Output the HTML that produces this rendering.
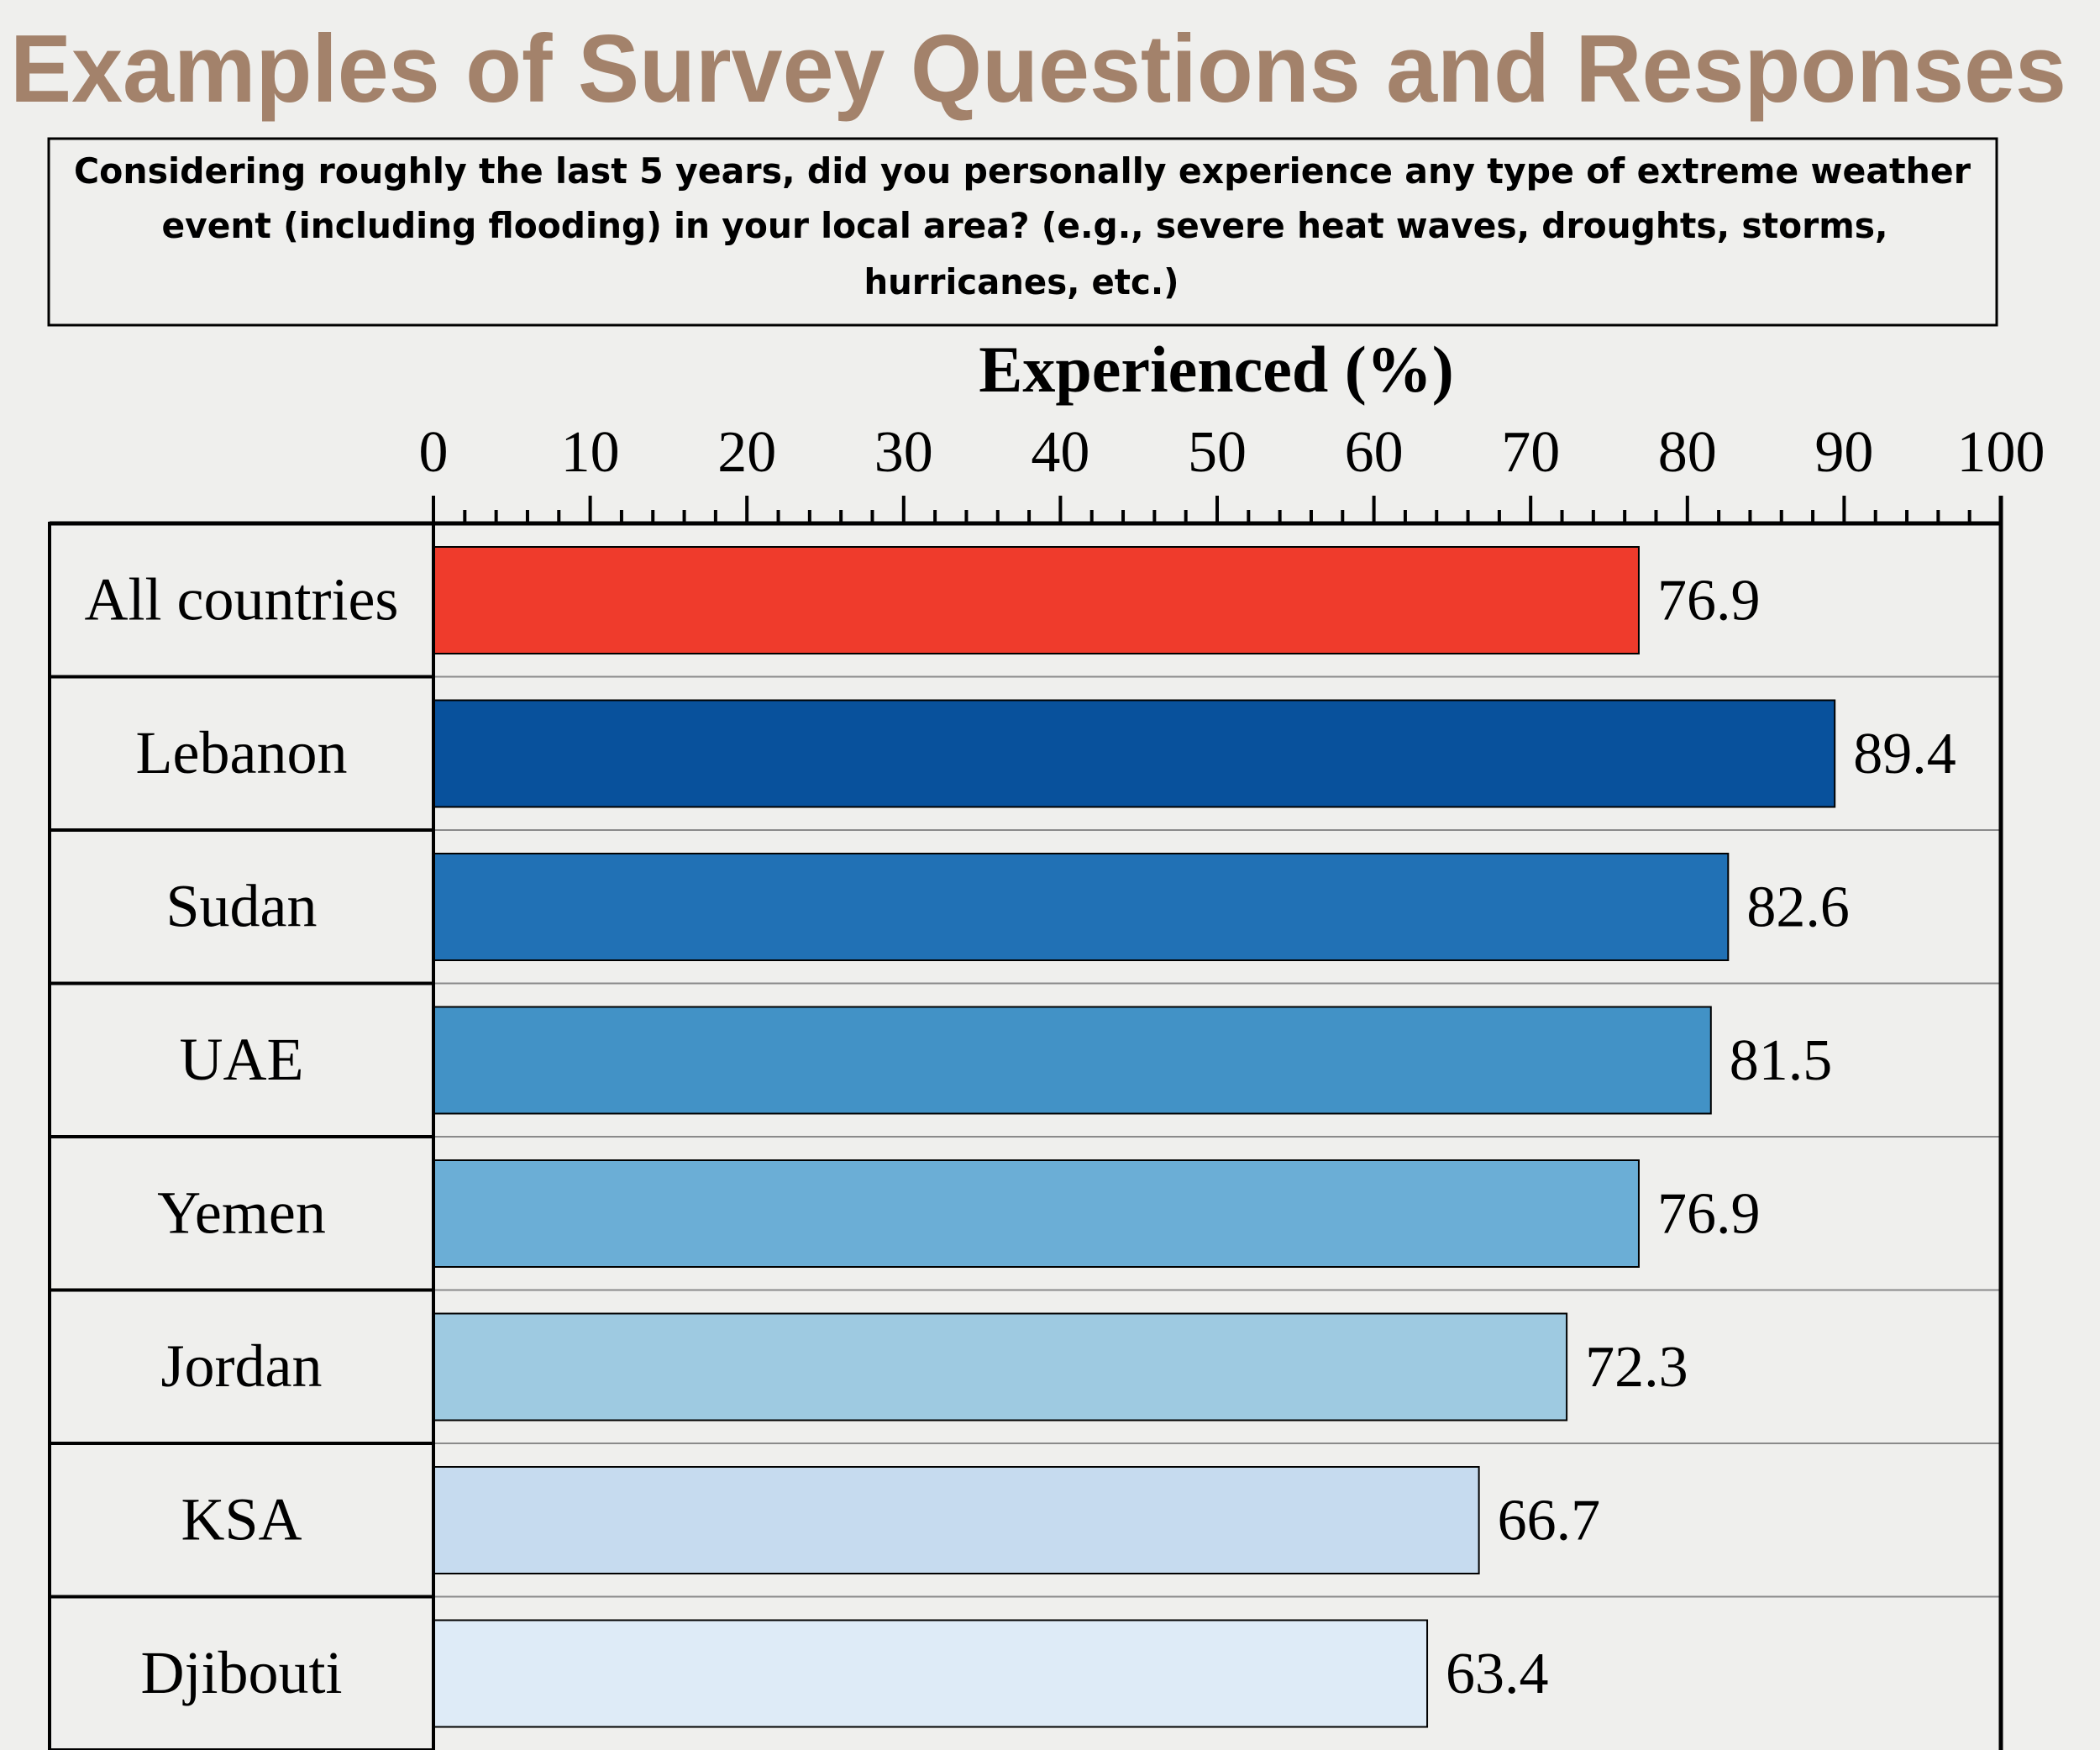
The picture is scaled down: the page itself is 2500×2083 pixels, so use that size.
<!DOCTYPE html>
<html><head><meta charset="utf-8"><style>
html,body{margin:0;padding:0;background:#efefed;}
svg{display:block;}
</style></head><body>
<svg id="chart" width="2500" height="2083" viewBox="0 0 2500 2083" xmlns="http://www.w3.org/2000/svg">
<rect x="0" y="0" width="2500" height="2083" fill="#efefed"/>
<text x="1236" y="121" text-anchor="middle" textLength="2448" lengthAdjust="spacingAndGlyphs" font-family="Liberation Sans, sans-serif" font-weight="bold" font-size="114" fill="#a3826b">Examples of Survey Questions and Responses</text>
<rect x="58" y="165" width="2319" height="222" fill="none" stroke="#000" stroke-width="3"/>
<g font-family="DejaVu Sans, sans-serif" font-weight="bold" font-size="42" fill="#000" text-anchor="middle">
<text x="1217" y="218" textLength="2258" lengthAdjust="spacingAndGlyphs">Considering roughly the last 5 years, did you personally experience any type of extreme weather</text>
<text x="1220" y="283" textLength="2055" lengthAdjust="spacingAndGlyphs">event (including flooding) in your local area? (e.g., severe heat waves, droughts, storms,</text>
<text x="1216" y="350" textLength="375" lengthAdjust="spacingAndGlyphs">hurricanes, etc.)</text>
</g>
<text x="1448" y="466" text-anchor="middle" font-family="Liberation Serif, serif" font-weight="bold" font-size="78" fill="#000">Experienced (%)</text>
<g id="ticks"></g>
<g id="rows"></g>
<g id="bars"></g>
<g id="frame"></g>
</svg>
<script>
const categories = ["All countries","Lebanon","Sudan","UAE","Yemen","Jordan","KSA","Djibouti"];
const values = [76.9, 89.4, 82.6, 81.5, 76.9, 72.3, 66.7, 63.4];
const barColors = ["#ef3b2c","#08519c","#2171b5","#4292c6","#6baed6","#9ecae1","#c6dbef","#deebf7"];
const tickLabels = [0,10,20,30,40,50,60,70,80,90,100];

const NS = "http://www.w3.org/2000/svg";
const X0 = 516, X1 = 2382, AXIS_Y = 623, ROW_H = 182.5, LABEL_L = 59;
function xScale(v){ return X0 + (v/100)*(X1-X0); }
function rowTop(i){ return AXIS_Y + i*ROW_H; }
function mk(tag, attrs, parent){ const e=document.createElementNS(NS,tag); for(const k in attrs) e.setAttribute(k,attrs[k]); parent.appendChild(e); return e; }

const ticksG = document.getElementById('ticks');
for(let v=0; v<=100; v+=2){
  const major = v%10===0;
  const t = mk('line',{x1:xScale(v),x2:xScale(v),y1:major?590:607,y2:AXIS_Y,stroke:'#000','stroke-width':4},ticksG);
  
  
}
tickLabels.forEach(v=>{
  const t = mk('text',{x:xScale(v),y:561,'text-anchor':'middle','font-family':'Liberation Serif, serif','font-size':70,fill:'#000'},ticksG);
  t.textContent = v;
  
  
});

const rowsG = document.getElementById('rows');
const barsG = document.getElementById('bars');
categories.forEach((c,i)=>{
  const top = rowTop(i);
  if(i>0){
    const g = mk('line',{x1:X0,x2:X1,y1:top,y2:top,stroke:'#8a8a8a','stroke-width':2},rowsG);
    
    
  }
  const lb = mk('rect',{x:LABEL_L,y:top,width:X0-LABEL_L,height:ROW_H,fill:'none',stroke:'#000','stroke-width':4},rowsG);
  
  
  const lt = mk('text',{x:(LABEL_L+X0)/2,y:top+ROW_H/2+23,'text-anchor':'middle','font-family':'Liberation Serif, serif','font-size':72,fill:'#000'},rowsG);
  lt.textContent = c;
  
  
  const b = mk('rect',{x:X0,y:top+28,width:xScale(values[i])-X0,height:127,fill:barColors[i],stroke:'#000','stroke-width':2},barsG);
  
  
  const vt = mk('text',{x:xScale(values[i])+22,y:top+ROW_H/2+23,'font-family':'Liberation Serif, serif','font-size':70,fill:'#000'},barsG);
  vt.textContent = values[i].toFixed(1);
  
  
});

const fr = document.getElementById('frame');
const ax = mk('line',{x1:LABEL_L,x2:X1+2,y1:AXIS_Y,y2:AXIS_Y,stroke:'#000','stroke-width':5},fr);


const la = mk('line',{x1:X0,x2:X0,y1:590,y2:2083,stroke:'#000','stroke-width':4},fr);


const ra = mk('line',{x1:X1,x2:X1,y1:590,y2:2083,stroke:'#000','stroke-width':5},fr);


</script>
</body></html>
